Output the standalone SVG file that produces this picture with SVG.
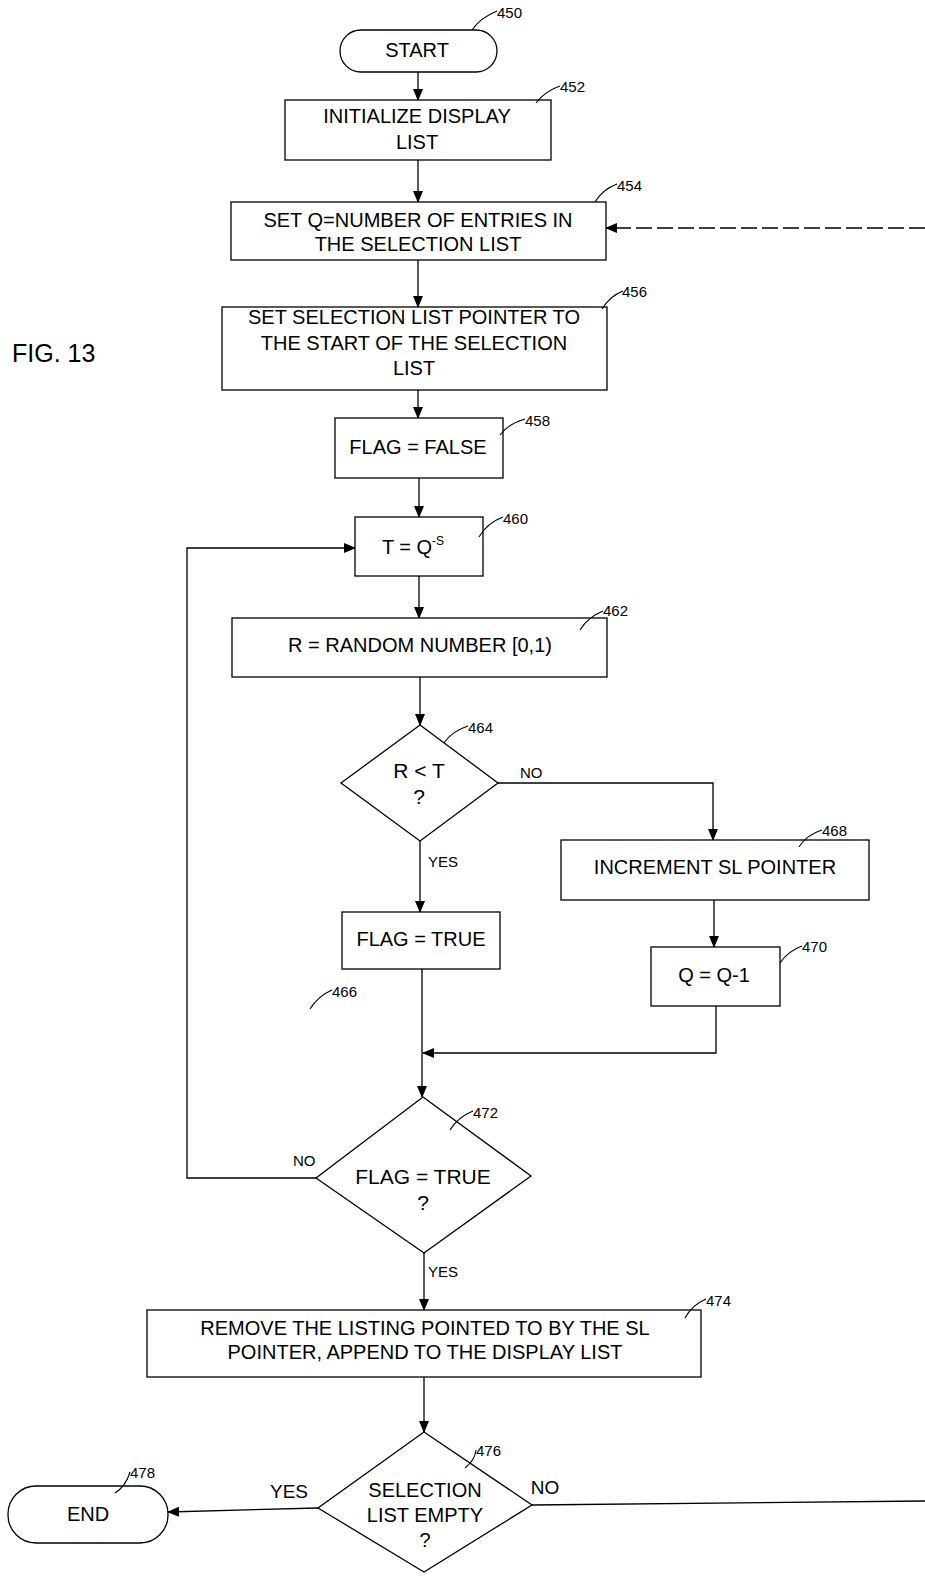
<svg xmlns="http://www.w3.org/2000/svg" width="925" height="1576" viewBox="0 0 925 1576">
<defs>
<style>
.box{fill:#fff;stroke:#000;stroke-width:1.3}
.t{font-family:"Liberation Sans",Arial,sans-serif;font-size:20px;fill:#000;text-anchor:middle}
.d{font-size:21px}
.ref{font-family:"Liberation Sans",Arial,sans-serif;font-size:15px;fill:#000}
.lbl{font-family:"Liberation Sans",Arial,sans-serif;font-size:15px;fill:#000}
.big{font-size:19px}
.ld{fill:none;stroke:#000;stroke-width:1.1}
.c{fill:none;stroke:#000;stroke-width:1.3}
</style>
<marker id="ah" markerWidth="12" markerHeight="10" refX="11" refY="5" orient="auto" markerUnits="userSpaceOnUse">
<path d="M0,0 L12,5 L0,10 Z" fill="#000"/>
</marker>
</defs>
<rect width="925" height="1576" fill="#fff"/>

<text x="12" y="362" font-family="'Liberation Sans',Arial,sans-serif" font-size="25" fill="#000">FIG. 13</text>

<g id="connectors">
<path class="c" d="M418,72 V100" marker-end="url(#ah)"/>
<path class="c" d="M418,160 V202" marker-end="url(#ah)"/>
<path class="c" d="M925,228 H606" stroke="#555" stroke-dasharray="16,5" marker-end="url(#ah)"/>
<path class="c" d="M418,260 V307" marker-end="url(#ah)"/>
<path class="c" d="M418,390 V418" marker-end="url(#ah)"/>
<path class="c" d="M419,478 V517" marker-end="url(#ah)"/>
<path class="c" d="M419,576 V618" marker-end="url(#ah)"/>
<path class="c" d="M420,677 V725" marker-end="url(#ah)"/>
<path class="c" d="M498,783 H713 V840" marker-end="url(#ah)"/>
<path class="c" d="M420,841 V912" marker-end="url(#ah)"/>
<path class="c" d="M714,900 V947" marker-end="url(#ah)"/>
<path class="c" d="M422,969 V1097" marker-end="url(#ah)"/>
<path class="c" d="M716,1006 V1053 H423" marker-end="url(#ah)"/>
<path class="c" d="M316,1178 H187 V548 H355" marker-end="url(#ah)"/>
<path class="c" d="M424,1253 V1310" marker-end="url(#ah)"/>
<path class="c" d="M424,1377 V1432" marker-end="url(#ah)"/>
<path class="c" d="M318,1508 L168,1512" marker-end="url(#ah)"/>
<path class="c" d="M532,1505 L925,1501"/>
<text class="lbl" x="520" y="778">NO</text>
<text class="lbl" x="428" y="867">YES</text>
<text class="lbl" x="293" y="1166">NO</text>
<text class="lbl" x="428" y="1277">YES</text>
<text class="lbl big" x="289" y="1498" text-anchor="middle">YES</text>
<text class="lbl big" x="545" y="1494" text-anchor="middle">NO</text>
</g>

<g id="n450">
<rect class="box" x="340" y="30" width="157" height="42" rx="21"/>
<text class="t" x="417" y="57">START</text>
<path class="ld" d="M472,30 Q480,18 497,11"/>
<text class="ref" x="497" y="18">450</text>
</g>

<g id="n452">
<rect class="box" x="285" y="100" width="266" height="60"/>
<text class="t" x="417" y="123">INITIALIZE DISPLAY</text>
<text class="t" x="417" y="149">LIST</text>
<path class="ld" d="M536,103 Q545,91 560,86"/>
<text class="ref" x="560" y="92">452</text>
</g>

<g id="n454">
<rect class="box" x="231" y="202" width="375" height="58"/>
<text class="t" x="418" y="227">SET Q=NUMBER OF ENTRIES IN</text>
<text class="t" x="418" y="251">THE SELECTION LIST</text>
<path class="ld" d="M595,202 Q603,189 617,184"/>
<text class="ref" x="617" y="191">454</text>
</g>

<g id="n456">
<rect class="box" x="222" y="307" width="385" height="83"/>
<text class="t" x="414" y="324">SET SELECTION LIST POINTER TO</text>
<text class="t" x="414" y="350">THE START OF THE SELECTION</text>
<text class="t" x="414" y="375">LIST</text>
<path class="ld" d="M602,309 Q610,296 623,291"/>
<text class="ref" x="622" y="297">456</text>
</g>

<g id="n458">
<rect class="box" x="335" y="418" width="168" height="60"/>
<text class="t" x="418" y="454">FLAG = FALSE</text>
<path class="ld" d="M500,435 Q508,424 525,419"/>
<text class="ref" x="525" y="426">458</text>
</g>

<g id="n460">
<rect class="box" x="355" y="517" width="128" height="59"/>
<text class="t" x="413" y="554">T = Q<tspan font-size="12" dy="-9">-S</tspan></text>
<path class="ld" d="M479,537 Q487,523 503,517"/>
<text class="ref" x="503" y="524">460</text>
</g>

<g id="n462">
<rect class="box" x="232" y="618" width="375" height="59"/>
<text class="t" x="420" y="652">R = RANDOM NUMBER [0,1)</text>
<path class="ld" d="M580,630 Q588,617 603,611"/>
<text class="ref" x="603" y="616">462</text>
</g>

<g id="n464">
<polygon class="box" points="420,725 498,783 420,841 341,783"/>
<text class="t d" x="419" y="778">R &lt; T</text>
<text class="t d" x="419" y="804">?</text>
<path class="ld" d="M444,743 Q452,731 468,726"/>
<text class="ref" x="468" y="733">464</text>
</g>

<g id="n468">
<rect class="box" x="561" y="840" width="308" height="60"/>
<text class="t" x="715" y="874">INCREMENT SL POINTER</text>
<path class="ld" d="M799,847 Q806,835 822,830"/>
<text class="ref" x="822" y="836">468</text>
</g>

<g id="n470">
<rect class="box" x="651" y="947" width="129" height="59"/>
<text class="t" x="714" y="982">Q = Q-1</text>
<path class="ld" d="M780,963 Q788,951 802,946"/>
<text class="ref" x="802" y="952">470</text>
</g>

<g id="n466">
<rect class="box" x="342" y="912" width="158" height="57"/>
<text class="t" x="421" y="946">FLAG = TRUE</text>
<path class="ld" d="M310,1009 Q318,996 332,990"/>
<text class="ref" x="332" y="997">466</text>
</g>

<g id="n472">
<polygon class="box" points="423,1097 531,1176 424,1253 316,1178"/>
<text class="t d" x="423" y="1184">FLAG = TRUE</text>
<text class="t d" x="423" y="1210">?</text>
<path class="ld" d="M450,1130 Q458,1117 473,1111"/>
<text class="ref" x="473" y="1118">472</text>
</g>

<g id="n474">
<rect class="box" x="147" y="1310" width="554" height="67"/>
<text class="t" x="425" y="1335">REMOVE THE LISTING POINTED TO BY THE SL</text>
<text class="t" x="425" y="1359">POINTER, APPEND TO THE DISPLAY LIST</text>
<path class="ld" d="M685,1318 Q692,1305 706,1299"/>
<text class="ref" x="706" y="1306">474</text>
</g>

<g id="n476">
<polygon class="box" points="424,1432 532,1505 424,1572 318,1508"/>
<text class="t" x="425" y="1497">SELECTION</text>
<text class="t" x="425" y="1522">LIST EMPTY</text>
<text class="t" x="425" y="1547">?</text>
<path class="ld" d="M465,1468 Q475,1460 476,1450"/>
<text class="ref" x="476" y="1456" font-size="17">476</text>
</g>

<g id="n478">
<rect class="box" x="8" y="1486" width="160" height="57" rx="28"/>
<text class="t" x="88" y="1521">END</text>
<path class="ld" d="M115,1493 Q126,1486 130,1472"/>
<text class="ref" x="130" y="1478" font-size="17">478</text>
</g>
</svg>
